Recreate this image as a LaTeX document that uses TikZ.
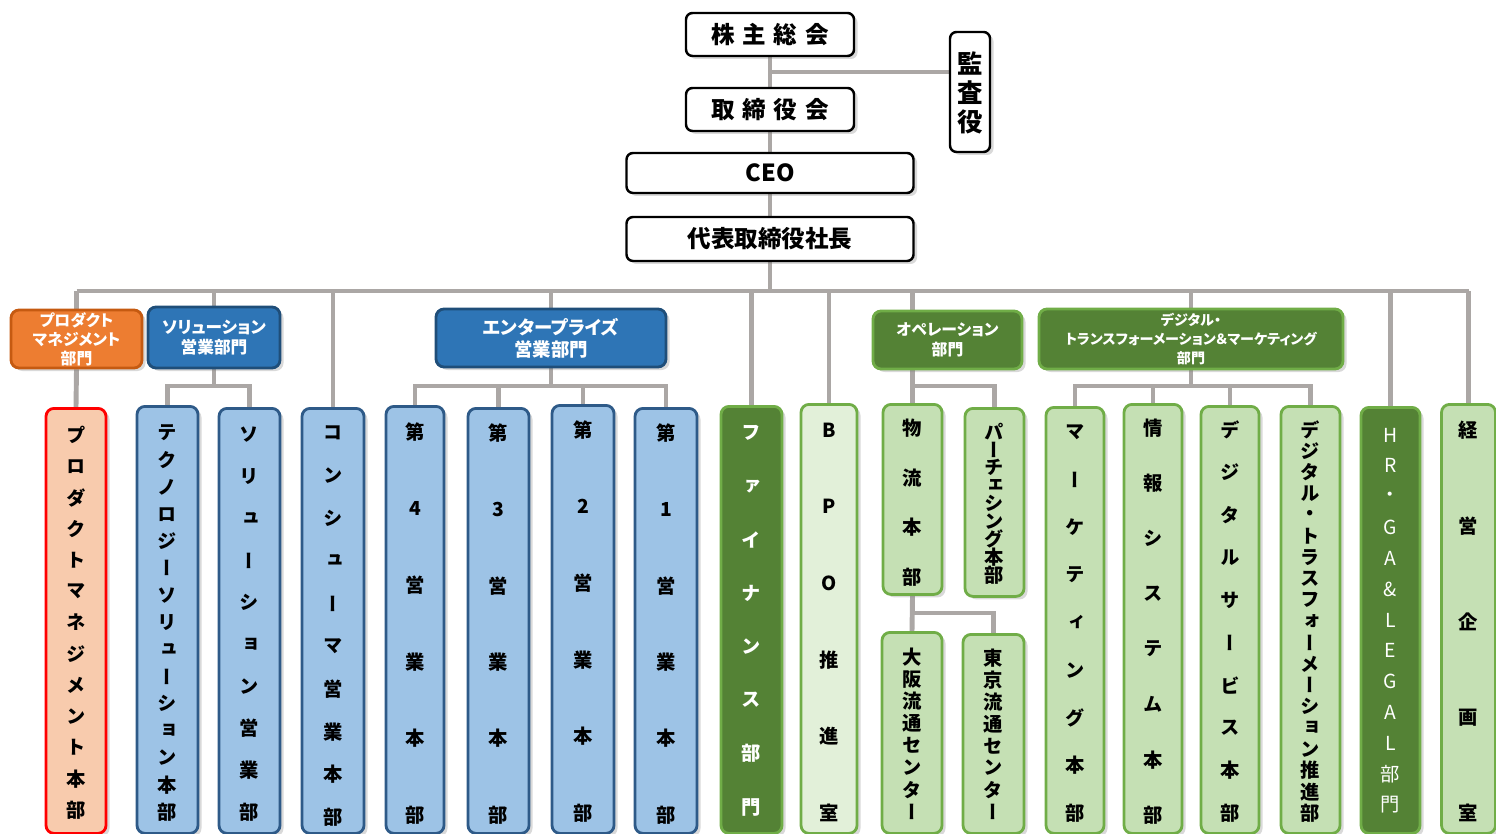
\documentclass[tikz,border=0pt]{standalone}
\usepackage{fontspec}
\setmainfont{Noto Sans CJK JP}
\newfontfamily\jph{Noto Sans CJK JP}[RawFeature=+palt]
\newfontfamily\jpv{Noto Sans CJK JP}[RawFeature=+vert]
\usetikzlibrary{shadows}

\definecolor{lnk}{HTML}{ABA7A5}
\definecolor{orgfill}{HTML}{ED7D31}
\definecolor{orgline}{HTML}{C55A11}
\definecolor{bluefill}{HTML}{2E75B6}
\definecolor{blueline}{HTML}{1F4E79}
\definecolor{ltblue}{HTML}{9DC3E6}
\definecolor{ltblueline}{HTML}{2E5A88}
\definecolor{peach}{HTML}{F8CBAD}
\definecolor{dkgreen}{HTML}{548235}
\definecolor{grline}{HTML}{70AD47}
\definecolor{ltgreen}{HTML}{C5E0B4}
\definecolor{paleg}{HTML}{E2F0D9}

\pgfdeclarelayer{bg}
\pgfsetlayers{bg,main}

\newcommand{\hfont}[2]{\jph\bfseries\fontsize{#1pt}{#2pt}\selectfont}
\newcommand{\vfont}{\jpv\bfseries\fontsize{11pt}{11pt}\selectfont}

% characters of a vertical label, spread from top to bottom
\newcommand{\vstack}[6]{%
  \foreach \ch [count=\i] in {#6}{%
    \node[vchar] (#1-\i) at ({#2},{#3+(\i-1)*((#4)-(#3))/((#5)-1)}) {\ch};
  }%
}

\begin{document}
\begin{tikzpicture}[x=0.02cm, y=-0.02cm,
    wd/.style={minimum width=#1*0.02cm},
    ht/.style={minimum height=#1*0.02cm},
    box/.style={draw, rounded corners=0.16cm, line width=1.6pt, inner sep=0pt,
      drop shadow={shadow xshift=0.07cm, shadow yshift=-0.06cm, opacity=0.3}},
    topbox/.style={box, fill=white, draw=black, line width=1.4pt, rounded corners=0.13cm},
    orgdiv/.style={box, fill=orgfill, draw=orgline, text=white, align=center},
    bluediv/.style={box, fill=bluefill, draw=blueline, text=white, align=center},
    greendiv/.style={box, fill=dkgreen, draw=grline, text=white, align=center},
    bluebox/.style={box, fill=ltblue, draw=ltblueline, anchor=north},
    peachbox/.style={box, fill=peach, draw=red, anchor=north},
    greenbox/.style={box, fill=ltgreen, draw=grline, anchor=north},
    palebox/.style={box, fill=paleg, draw=grline, anchor=north},
    darkbox/.style={box, fill=dkgreen, draw=grline, anchor=north},
    vchar/.style={font=\vfont, inner sep=0pt, text=black},
    link/.style={draw=lnk, line width=2.8pt, line join=miter}]

\useasboundingbox (0,0) rectangle (1496,834);

% top
\node[topbox, wd=168, ht=43, font=\hfont{13.4}{16}] (agm) at (770,34.5) {株\kern4.4pt 主\kern4.4pt 総\kern4.4pt 会};
\node[topbox, wd=168, ht=43, font=\hfont{13.4}{16}] (bod) at (770,109.5) {取\kern4.4pt 締\kern4.4pt 役\kern4.4pt 会};
\node[topbox, wd=287, ht=40, font=\hfont{13.4}{16}] (ceo) at (770,173) {CEO};
\node[topbox, wd=287, ht=44, font=\hfont{13.4}{16}] (pres) at (770,239) {代表取締役社長};
\node[topbox, wd=40, ht=120] (audit) at (970,92) {};
\begin{scope}[vchar/.append style={font=\jpv\bfseries\fontsize{14.5pt}{14.5pt}\selectfont}]
  \vstack{audit}{970}{63}{122}{3}{監,査,役}
\end{scope}

% divisions
\node[orgdiv, wd=131, ht=58, font=\hfont{9}{10.8}] (prodDiv) at (76.5,339) {プロダクト\\マネジメント\\部門};
\node[bluediv, wd=132, ht=61, font=\hfont{9.5}{11.4}] (solDiv) at (214,337.5) {ソリューション\\営業部門};
\node[bluediv, wd=230, ht=58, font=\hfont{10.5}{12.5}] (entDiv) at (551,338) {エンタープライズ\\営業部門};
\node[greendiv, wd=149, ht=58, font=\hfont{9}{11.4}] (opsDiv) at (947.5,340) {オペレーション\\部門};
\node[greendiv, wd=304, ht=60, font=\hfont{8}{10.8}] (dxDiv) at (1191,339) {デジタル・\\トランスフォーメーション＆マーケティング\\部門};

% units
\node[peachbox, wd=60, ht=425] (prodHQ) at (76,407) {};
\node[bluebox, wd=61, ht=427] (tech) at (167.5,405) {};
\node[bluebox, wd=61, ht=425] (solSales) at (249.5,407) {};
\node[bluebox, wd=62, ht=425] (consumer) at (333,407) {};
\node[bluebox, wd=58, ht=427] (s4) at (415,405) {};
\node[bluebox, wd=61, ht=425] (s3) at (498.5,407) {};
\node[bluebox, wd=62, ht=428] (s2) at (583,404) {};
\node[bluebox, wd=62, ht=425] (s1) at (666,407) {};
\node[darkbox, wd=61, ht=427] (fin) at (751.5,405) {};
\node[palebox, wd=56, ht=429] (bpo) at (829,403) {};
\node[greenbox, wd=59, ht=190] (logi) at (912.5,403) {};
\node[greenbox, wd=59, ht=188] (purch) at (994.5,407) {};
\node[greenbox, wd=60, ht=201] (osaka) at (912,631) {};
\node[greenbox, wd=61, ht=199] (tokyo) at (993.5,633) {};
\node[greenbox, wd=58, ht=426] (mkt) at (1075,406) {};
\node[greenbox, wd=58, ht=429] (info) at (1153,403) {};
\node[greenbox, wd=58, ht=427] (dsvc) at (1230,405) {};
\node[greenbox, wd=59, ht=427] (dxp) at (1310.5,405) {};
\node[darkbox, wd=59, ht=426] (hr) at (1390.5,406) {};
\node[greenbox, wd=54, ht=429] (keiei) at (1468.5,403) {};

\vstack{prodHQ}{76}{435}{810}{13}{プ,ロ,ダ,ク,ト,マ,ネ,ジ,メ,ン,ト,本,部}
\vstack{tech}{167.5}{433}{812}{15}{テ,ク,ノ,ロ,ジ,ー,ソ,リ,ュ,ー,シ,ョ,ン,本,部}
\vstack{solSales}{249.5}{435}{812}{10}{ソ,リ,ュ,ー,シ,ョ,ン,営,業,部}
\vstack{consumer}{333}{433}{817}{10}{コ,ン,シ,ュ,ー,マ,営,業,本,部}
\vstack{s4}{415}{432}{815}{6}{第,4,営,業,本,部}
\vstack{s3}{498.5}{433}{815}{6}{第,3,営,業,本,部}
\vstack{s2}{583}{430}{813}{6}{第,2,営,業,本,部}
\vstack{s1}{666}{433}{815}{6}{第,1,営,業,本,部}
\begin{scope}[vchar/.append style={text=white}]
  \vstack{fin}{751.5}{433}{807}{8}{フ,ァ,イ,ナ,ン,ス,部,門}
\end{scope}
\vstack{bpo}{829}{430}{813}{6}{B,P,O,推,進,室}
\vstack{logi}{912.5}{428}{577}{4}{物,流,本,部}
\vstack{purch}{994.5}{432}{575}{9}{パ,ー,チ,ェ,シ,ン,グ,本,部}
\vstack{osaka}{912}{657}{812}{8}{大,阪,流,通,セ,ン,タ,ー}
\vstack{tokyo}{993.5}{658}{812}{8}{東,京,流,通,セ,ン,タ,ー}
\vstack{mkt}{1075}{432}{813}{9}{マ,ー,ケ,テ,ィ,ン,グ,本,部}
\vstack{info}{1153}{428}{815}{8}{情,報,シ,ス,テ,ム,本,部}
\vstack{dsvc}{1230}{430}{813}{10}{デ,ジ,タ,ル,サ,ー,ビ,ス,本,部}
\vstack{dxp}{1310.5}{430}{813}{19}{デ,ジ,タ,ル,・,ト,ラ,ス,フ,ォ,ー,メ,ー,シ,ョ,ン,推,進,部}
\begin{scope}[vchar/.append style={text=white, font=\jpv\fontsize{11pt}{11pt}\selectfont}]
  \vstack{hr}{1390.5}{435}{805}{13}{H,R,・,G,A,\&,L,E,G,A,L,部,門}
\end{scope}
\vstack{keiei}{1468.5}{430}{813}{5}{経,営,企,画,室}

% connectors
\begin{pgfonlayer}{bg}
\coordinate (aud) at (0,72);
\coordinate (bus) at (0,291);
\coordinate (sub) at (0,386);
\coordinate (sub2) at (0,613);
\draw[link] (agm.south) -- (pres.south);
\draw[link] (agm.south |- aud) -- (audit.west |- aud);
\draw[link] (pres.south) -- (pres.south |- bus);
\draw[link] (prodDiv.north |- bus) -- (keiei.north |- bus);
\foreach \n in {prodDiv, solDiv, entDiv, consumer, fin, bpo, dxDiv, hr, keiei}
  \draw[link] (\n.north |- bus) -- (\n.north);
\draw[link] (logi.north |- bus) -- (logi.north |- opsDiv.north);
\draw[link] (prodDiv.south) -- (prodHQ.north);
% solution
\draw[link] (solDiv.south) -- (solDiv.south |- sub);
\draw[link] (tech.north) -- (tech.north |- sub) -- (solSales.north |- sub) -- (solSales.north);
% enterprise
\draw[link] (entDiv.south) -- (entDiv.south |- sub);
\draw[link] (s4.north) -- (s4.north |- sub) -- (s1.north |- sub) -- (s1.north);
\draw[link] (s3.north |- sub) -- (s3.north);
\draw[link] (s2.north |- sub) -- (s2.north);
% operation
\draw[link] (logi.north |- opsDiv.south) -- (logi.north);
\draw[link] (logi.north |- sub) -- (purch.north |- sub) -- (purch.north);
\draw[link] (logi.south) -- (osaka.north);
\draw[link] (logi.south |- sub2) -- (tokyo.north |- sub2) -- (tokyo.north);
% dx
\draw[link] (dxDiv.south) -- (dxDiv.south |- sub);
\draw[link] (mkt.north) -- (mkt.north |- sub) -- (dxp.north |- sub) -- (dxp.north);
\draw[link] (info.north |- sub) -- (info.north);
\draw[link] (dsvc.north |- sub) -- (dsvc.north);
\end{pgfonlayer}

\end{tikzpicture}
\end{document}
